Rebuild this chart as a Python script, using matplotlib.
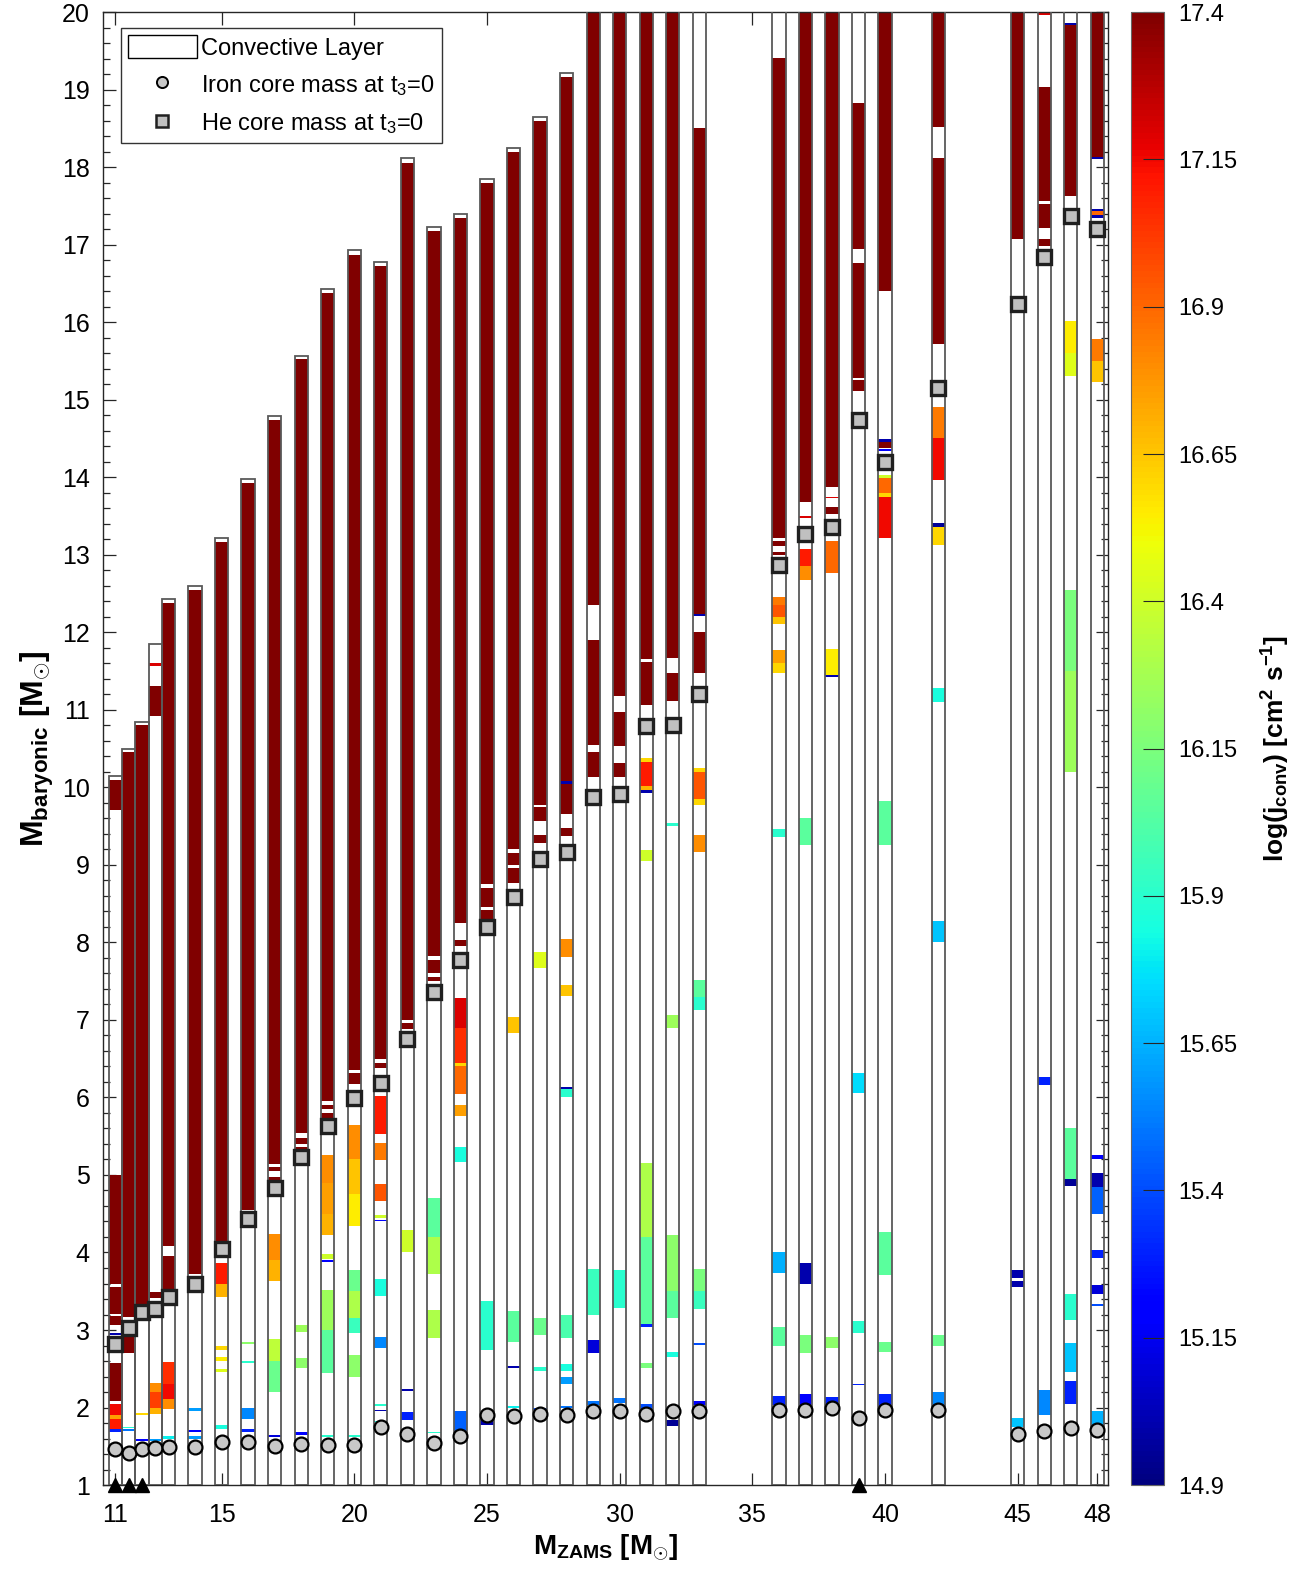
import numpy as np
import matplotlib
matplotlib.use('Agg')
from matplotlib import pyplot as plt
from matplotlib.patches import Patch
from matplotlib.lines import Line2D

plt.rcParams['font.family'] = ['Liberation Sans', 'DejaVu Sans']
plt.rcParams['mathtext.fontset'] = 'custom'
plt.rcParams['mathtext.rm'] = 'Liberation Sans'
plt.rcParams['mathtext.it'] = 'Liberation Sans:italic'
plt.rcParams['mathtext.bf'] = 'Liberation Sans:bold'

# models (ZAMS mass), total mass, iron core, He core
zams = [11, 11.5, 12, 12.5, 13, 14, 15, 16, 17, 18, 19, 20, 21, 22, 23, 24, 25,
        26, 27, 28, 29, 30, 31, 32, 33, 36, 37, 38, 39, 40, 42, 45, 46, 47, 48]
m_tot = [10.15, 10.49, 10.84, 11.85, 12.43, 12.6, 13.22, 13.98, 14.79, 15.57,
         16.43, 16.93, 16.78, 18.12, 17.23, 17.39, 17.85, 18.25, 18.65, 19.21,
         20.5, 20.5, 20.5, 20.5, 20.5, 20.5, 20.5, 20.5, 20.5, 20.5, 20.5,
         20.5, 20.5, 20.5, 20.5]
m_fe = [1.46, 1.41, 1.47, 1.48, 1.49, 1.49, 1.55, 1.56, 1.50, 1.53, 1.52, 1.52,
        1.75, 1.66, 1.54, 1.63, 1.90, 1.89, 1.92, 1.91, 1.95, 1.95, 1.92, 1.95,
        1.96, 1.97, 1.97, 1.99, 1.87, 1.97, 1.97, 1.66, 1.70, 1.73, 1.71]
m_he = [2.82, 3.03, 3.23, 3.27, 3.43, 3.59, 4.04, 4.43, 4.83, 5.23, 5.63, 5.99,
        6.18, 6.76, 7.36, 7.77, 8.20, 8.59, 9.08, 9.16, 9.88, 9.91, 10.79, 10.80,
        11.21, 12.87, 13.27, 13.36, 14.74, 14.20, 15.15, 16.23, 16.84, 17.37, 17.20]
tri_models = [11, 11.5, 12, 39]

# convective layers: (zams, bottom, top, log j_conv)
layers = [
    (11, 9.71, 10.10, 17.4), (11, 3.60, 5.00, 17.4), (11, 3.21, 3.56, 17.4), (11, 3.06, 3.18, 17.4),
    (11, 2.93, 2.96, 15.0), (11, 2.76, 2.92, 17.4), (11, 2.08, 2.58, 17.4), (11, 1.90, 2.04, 17.15),
    (11, 1.85, 1.90, 16.75), (11, 1.72, 1.85, 17.1), (11, 1.68, 1.72, 15.3),
    (11.5, 3.17, 10.45, 17.4), (11.5, 2.70, 3.12, 17.4), (11.5, 1.73, 1.75, 15.9), (11.5, 1.70, 1.72, 15.5),
    (12, 3.32, 10.80, 17.4), (12, 1.91, 1.93, 16.6), (12, 1.57, 1.59, 15.2),
    (12.5, 11.57, 11.61, 17.2), (12.5, 10.92, 11.31, 17.4), (12.5, 3.41, 3.49, 17.4), (12.5, 2.20, 2.32, 16.8),
    (12.5, 2.00, 2.20, 17.0), (12.5, 1.92, 2.00, 16.7), (12.5, 1.57, 1.60, 15.6),
    (13, 4.08, 12.38, 17.4), (13, 3.53, 3.95, 17.4), (13, 2.30, 2.59, 17.05), (13, 2.11, 2.30, 17.15),
    (13, 1.98, 2.11, 16.8), (13, 1.60, 1.63, 15.8),
    (14, 3.72, 12.55, 17.4), (14, 1.96, 1.99, 15.6), (14, 1.68, 1.71, 15.2), (14, 1.60, 1.63, 15.6),
    (15, 4.15, 13.17, 17.4), (15, 3.60, 3.86, 17.1), (15, 3.42, 3.60, 16.7), (15, 2.74, 2.80, 16.6),
    (15, 2.60, 2.65, 16.55), (15, 2.46, 2.50, 16.45), (15, 1.72, 1.77, 15.85),
    (16, 4.55, 13.93, 17.4), (16, 2.82, 2.85, 16.2), (16, 2.57, 2.60, 15.9), (16, 1.85, 1.99, 15.55),
    (16, 1.68, 1.72, 15.3),
    (17, 5.14, 14.74, 17.4), (17, 5.05, 5.10, 17.4), (17, 4.93, 4.98, 17.4), (17, 3.90, 4.24, 16.8),
    (17, 3.63, 3.90, 16.7), (17, 2.60, 2.89, 16.35), (17, 2.20, 2.60, 16.1), (17, 1.62, 1.64, 15.1),
    (18, 5.54, 15.52, 17.4), (18, 5.40, 5.48, 17.4), (18, 5.31, 5.36, 17.4), (18, 2.98, 3.06, 16.25),
    (18, 2.51, 2.64, 16.2), (18, 1.65, 1.68, 15.2),
    (19, 5.95, 16.38, 17.4), (19, 5.85, 5.90, 17.4), (19, 5.74, 5.80, 17.4), (19, 4.90, 5.26, 16.8),
    (19, 4.50, 4.90, 16.75), (19, 4.22, 4.50, 16.7), (19, 3.91, 3.98, 16.4), (19, 3.88, 3.90, 15.2),
    (19, 3.00, 3.51, 16.25), (19, 2.44, 3.00, 16.05), (19, 1.62, 1.64, 15.9),
    (20, 6.36, 16.87, 17.4), (20, 6.17, 6.32, 17.4), (20, 5.20, 5.64, 16.8), (20, 4.75, 5.20, 16.65),
    (20, 4.34, 4.75, 16.55), (20, 3.50, 3.77, 16.1), (20, 3.15, 3.50, 16.3), (20, 2.96, 3.15, 15.95),
    (20, 2.39, 2.68, 16.2), (20, 1.62, 1.64, 15.9),
    (21, 6.50, 16.73, 17.4), (21, 6.38, 6.45, 17.4), (21, 5.53, 6.02, 17.1), (21, 5.19, 5.41, 16.85),
    (21, 4.67, 4.88, 16.95), (21, 4.44, 4.48, 16.4), (21, 4.40, 4.42, 15.2), (21, 3.44, 3.66, 15.85),
    (21, 2.77, 2.91, 15.55), (21, 2.02, 2.04, 15.9), (21, 1.95, 1.97, 15.0), (21, 1.81, 1.83, 15.85),
    (22, 7.00, 18.06, 17.4), (22, 6.88, 6.96, 17.4), (22, 4.00, 4.29, 16.4), (22, 2.21, 2.24, 15.0),
    (22, 1.84, 1.94, 15.3),
    (23, 7.82, 17.18, 17.4), (23, 7.60, 7.77, 17.4), (23, 7.50, 7.55, 17.4), (23, 4.20, 4.70, 16.05),
    (23, 3.72, 4.20, 16.3), (23, 2.90, 3.26, 16.3), (23, 1.67, 1.69, 15.9), (23, 1.57, 1.59, 15.2),
    (24, 8.25, 17.34, 17.4), (24, 7.95, 8.03, 17.4), (24, 6.90, 7.28, 17.2), (24, 6.45, 6.90, 17.05),
    (24, 6.40, 6.45, 16.6), (24, 6.05, 6.40, 16.9), (24, 5.76, 5.90, 16.75), (24, 5.17, 5.36, 15.85),
    (24, 1.68, 1.96, 15.45),
    (25, 8.75, 17.80, 17.4), (25, 8.46, 8.70, 17.4), (25, 8.30, 8.42, 17.4), (25, 2.74, 3.37, 15.9),
    (25, 1.77, 1.89, 15.0),
    (26, 9.21, 18.20, 17.4), (26, 9.00, 9.15, 17.4), (26, 8.77, 8.96, 17.4), (26, 6.83, 7.04, 16.65),
    (26, 2.85, 3.25, 16.05), (26, 2.51, 2.53, 15.0), (26, 1.99, 2.02, 15.8),
    (27, 9.77, 18.60, 17.4), (27, 9.57, 9.75, 17.4), (27, 9.28, 9.39, 17.4), (27, 7.67, 7.87, 16.45),
    (27, 2.93, 3.15, 16.1), (27, 2.47, 2.52, 15.9), (27, 1.97, 2.00, 15.4),
    (28, 10.08, 19.16, 17.4), (28, 10.04, 10.08, 15.0), (28, 9.65, 10.04, 17.4), (28, 9.37, 9.47, 17.4),
    (28, 7.81, 8.04, 16.8), (28, 7.31, 7.45, 16.65), (28, 6.11, 6.13, 15.0), (28, 6.00, 6.11, 15.9),
    (28, 2.90, 3.20, 16.0), (28, 2.47, 2.56, 15.85), (28, 2.30, 2.39, 15.6), (28, 1.99, 2.02, 15.5),
    (29, 12.35, 20.5, 17.4), (29, 10.55, 11.90, 17.4), (29, 10.13, 10.46, 17.4), (29, 3.20, 3.79, 15.95),
    (29, 2.70, 2.87, 15.1), (29, 2.03, 2.08, 15.5),
    (30, 11.18, 20.5, 17.4), (30, 10.54, 10.97, 17.4), (30, 10.14, 10.31, 17.4), (30, 3.28, 3.77, 15.9),
    (30, 2.06, 2.12, 15.5),
    (31, 11.65, 20.5, 17.4), (31, 11.06, 11.62, 17.4), (31, 10.33, 10.38, 16.6), (31, 10.02, 10.33, 17.1),
    (31, 9.97, 10.02, 16.7), (31, 9.93, 9.96, 15.0), (31, 9.05, 9.19, 16.4), (31, 4.20, 5.15, 16.3),
    (31, 3.08, 4.20, 16.05), (31, 3.04, 3.08, 15.3), (31, 2.51, 2.58, 16.15), (31, 1.98, 2.04, 15.4),
    (32, 11.67, 20.5, 17.4), (32, 11.11, 11.47, 17.4), (32, 9.50, 9.54, 15.9), (32, 6.90, 7.07, 16.25),
    (32, 3.50, 4.22, 16.2), (32, 3.15, 3.50, 16.05), (32, 2.65, 2.71, 15.85), (32, 1.76, 1.84, 14.95),
    (33, 12.23, 18.50, 17.4), (33, 12.21, 12.23, 15.0), (33, 11.47, 12.01, 17.4), (33, 10.20, 10.25, 16.6),
    (33, 9.85, 10.20, 16.95), (33, 9.77, 9.85, 16.6), (33, 9.16, 9.39, 16.8), (33, 7.30, 7.52, 16.05),
    (33, 7.13, 7.30, 15.9), (33, 3.50, 3.79, 16.15), (33, 3.27, 3.50, 15.95), (33, 2.81, 2.83, 15.4),
    (33, 2.03, 2.09, 15.2),
    (36, 13.22, 19.41, 17.4), (36, 13.11, 13.18, 17.4), (36, 13.00, 13.04, 17.4), (36, 12.35, 12.46, 16.85),
    (36, 12.20, 12.35, 16.95), (36, 12.11, 12.20, 16.65), (36, 11.60, 11.77, 16.75), (36, 11.47, 11.60, 16.6),
    (36, 9.36, 9.46, 15.9), (36, 3.74, 4.00, 15.65), (36, 2.79, 3.04, 16.05), (36, 2.03, 2.15, 15.3),
    (37, 13.68, 20.5, 17.4), (37, 13.48, 13.50, 17.2), (37, 12.85, 13.07, 17.1), (37, 12.68, 12.85, 16.8),
    (37, 9.26, 9.60, 16.05), (37, 3.60, 3.86, 15.0), (37, 2.70, 2.93, 16.15), (37, 2.03, 2.18, 15.2),
    (38, 13.87, 20.5, 17.4), (38, 13.73, 13.75, 17.2), (38, 13.53, 13.62, 17.4), (38, 12.76, 13.18, 16.9),
    (38, 11.45, 11.78, 16.55), (38, 11.42, 11.45, 15.0), (38, 2.77, 2.91, 16.2), (38, 2.03, 2.14, 15.3),
    (39, 16.95, 18.83, 17.4), (39, 15.28, 16.76, 17.4), (39, 15.11, 15.26, 17.4), (39, 6.06, 6.31, 15.75),
    (39, 2.96, 3.12, 15.9), (39, 2.29, 2.31, 15.3),
    (40, 16.40, 20.5, 17.4), (40, 14.46, 14.49, 15.0), (40, 14.38, 14.46, 17.4), (40, 14.34, 14.37, 15.2),
    (40, 13.99, 14.03, 16.4), (40, 13.80, 13.99, 16.9), (40, 13.75, 13.80, 16.6), (40, 13.22, 13.75, 17.15),
    (40, 9.26, 9.82, 16.05), (40, 3.71, 4.27, 16.05), (40, 2.71, 2.85, 16.1), (40, 2.01, 2.18, 15.3),
    (42, 18.52, 20.5, 17.4), (42, 15.72, 18.12, 17.4), (42, 14.51, 14.91, 16.85), (42, 13.96, 14.51, 17.15),
    (42, 13.36, 13.41, 14.95), (42, 13.13, 13.36, 16.6), (42, 11.10, 11.28, 15.85), (42, 8.00, 8.28, 15.7),
    (42, 2.80, 2.94, 16.1), (42, 2.01, 2.20, 15.55),
    (45, 17.08, 20.5, 17.4), (45, 3.67, 3.77, 15.0), (45, 3.55, 3.63, 15.0), (45, 1.75, 1.87, 15.7),
    (46, 19.96, 20.5, 17.2), (46, 17.56, 19.04, 17.4), (46, 17.21, 17.52, 17.4), (46, 16.98, 17.08, 17.4),
    (46, 6.16, 6.26, 15.3), (46, 1.90, 2.23, 15.55),
    (47, 19.83, 19.86, 15.0), (47, 17.63, 19.83, 17.4), (47, 15.60, 16.01, 16.55), (47, 15.30, 15.60, 16.45),
    (47, 11.50, 12.54, 16.15), (47, 10.20, 11.50, 16.25), (47, 4.95, 5.60, 16.05), (47, 4.86, 4.95, 14.95),
    (47, 3.13, 3.46, 15.9), (47, 2.46, 2.83, 15.7), (47, 2.04, 2.34, 15.3),
    (48, 18.13, 20.5, 17.4), (48, 18.10, 18.13, 15.0), (48, 17.43, 17.46, 15.0), (48, 17.38, 17.43, 16.9),
    (48, 17.34, 17.38, 15.0), (48, 15.50, 15.79, 16.85), (48, 15.23, 15.50, 16.65), (48, 5.20, 5.26, 15.2),
    (48, 4.85, 5.03, 15.0), (48, 4.50, 4.85, 15.45), (48, 3.93, 4.03, 15.3), (48, 3.46, 3.58, 15.1),
    (48, 3.31, 3.33, 15.4), (48, 1.77, 1.96, 15.65),
]

x_ticks = [11, 15, 20, 25, 30, 35, 40, 45, 48]
cb_ticks = [14.9, 15.15, 15.4, 15.65, 15.9, 16.15, 16.4, 16.65, 16.9, 17.15, 17.4]

jmin, jmax = 14.9, 17.4
cmap = plt.get_cmap('jet')
norm = matplotlib.colors.Normalize(vmin=jmin, vmax=jmax)
w = 0.5

fig = plt.figure(figsize=(13.1, 15.77), dpi=100)
ax = fig.add_axes([0.079, 0.0583, 0.7668, 0.934])

# white columns
tot = np.array(m_tot)
ax.bar(zams, tot - 1, bottom=1, width=w, color='white', edgecolor='none', zorder=1)

# convective layers
lz = np.array([l[0] for l in layers])
lb = np.array([l[1] for l in layers])
lt = np.array([l[2] for l in layers])
lj = np.array([l[3] for l in layers])
ax.bar(lz, lt - lb, bottom=lb, width=w, color=cmap(norm(lj)), edgecolor='none',
       linewidth=0, zorder=2)

# column outlines
ax.bar(zams, tot - 1, bottom=1, width=w, facecolor='none', edgecolor='0.35',
       linewidth=1.3, zorder=3)

ax.plot(zams, m_fe, 'o', ms=10, mfc='#c8c8c8', mec='black', mew=1.6, zorder=5, clip_on=False)
ax.plot(zams, m_he, 's', ms=10, mfc='#c0c0c0', mec='#202020', mew=2.4, zorder=5)
ax.plot(tri_models, [1.0] * len(tri_models), '^', ms=10, color='black', zorder=6,
        clip_on=False)

ax.set_xlim(10.55, 48.4)
ax.set_ylim(1, 20)
ax.set_xticks(x_ticks)
ax.set_yticks(range(1, 21))
ax.set_yticks(np.arange(1, 20.01, 0.2), minor=True)
ax.tick_params(which='both', direction='in', top=True, right=True, labelsize=18,
               color='0.15', width=0.9)
ax.tick_params(which='major', length=9)
ax.tick_params(which='minor', length=5)
ax.tick_params(axis='x', pad=13)
ax.tick_params(axis='y', pad=10)
for s in ax.spines.values():
    s.set_color('0.15')
    s.set_linewidth(1.0)

ax.set_xlabel(r'$\mathbf{M_{ZAMS}\ [M_{\odot}]}$', fontsize=20, labelpad=4)
ax.set_ylabel(r'$\mathbf{M_{baryonic}\ [M_{\odot}]}$', fontsize=23, labelpad=4)

handles = [
    Patch(facecolor='white', edgecolor='black', linewidth=1),
    Line2D([], [], ls='none', marker='o', ms=8, mfc='#c8c8c8', mec='black', mew=1.4),
    Line2D([], [], ls='none', marker='s', ms=8, mfc='#c0c0c0', mec='#202020', mew=1.8),
]
leg = ax.legend(handles, ['Convective Layer', r'Iron core mass at t$_3$=0',
                          r'He core mass at t$_3$=0'],
                loc='upper left', bbox_to_anchor=(0.0174, 0.989), borderaxespad=0,
                fontsize=17, fancybox=False, framealpha=1, edgecolor='0.2',
                handlelength=2.9, handleheight=1.1, handletextpad=0.2,
                labelspacing=0.55, borderpad=0.3)
leg.get_frame().set_linewidth(1.0)

# colorbar
cax = fig.add_axes([0.8634, 0.0583, 0.0255, 0.934])
sm = matplotlib.cm.ScalarMappable(norm=norm, cmap=cmap)
cb = fig.colorbar(sm, cax=cax, ticks=cb_ticks)
cb.ax.set_yticklabels(['%g' % t for t in cb_ticks])
cb.ax.tick_params(direction='in', length=15, width=0.8, color='0.15', labelsize=17, pad=10)
cb.outline.set_edgecolor('0.4')
cb.set_label(r'$\mathbf{log(j_{conv})\ [cm^2\ s^{-1}]}$', fontsize=19, labelpad=16)

fig.savefig('out.png', dpi=100)
